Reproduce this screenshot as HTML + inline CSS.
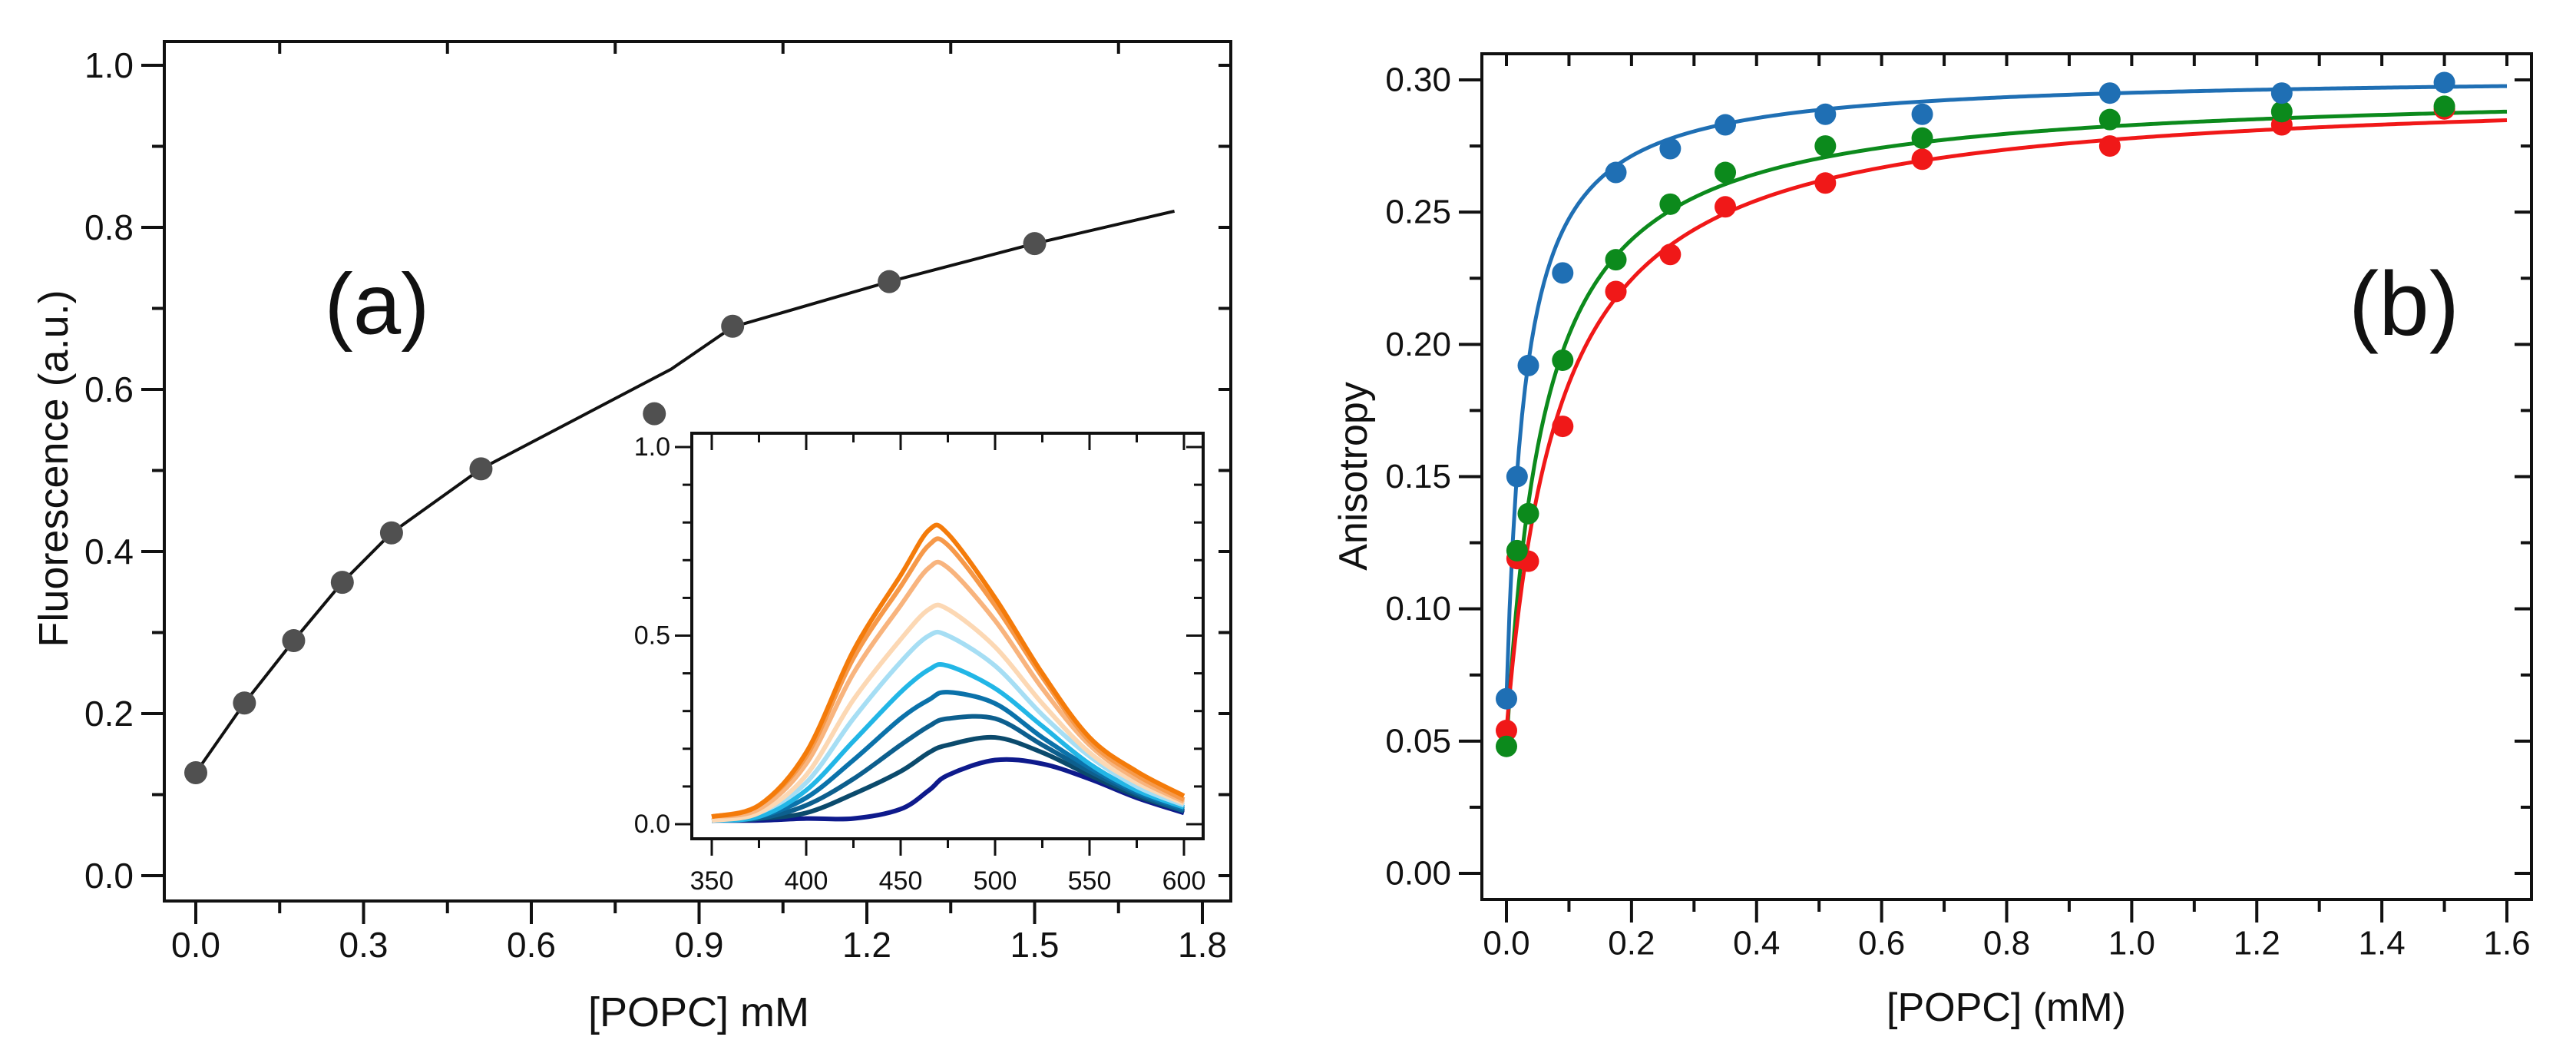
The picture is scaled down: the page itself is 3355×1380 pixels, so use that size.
<!DOCTYPE html>
<html><head><meta charset="utf-8"><style>
html,body{margin:0;padding:0;background:#fff;}
svg{display:block;}
text{font-family:"Liberation Sans",Arial,sans-serif;fill:#111;}
</style></head><body>
<svg id="fig" width="3355" height="1380" viewBox="0 0 3355 1380" xmlns="http://www.w3.org/2000/svg"></svg>
<script>
// ---------- Panel (a) data ----------
const aX = [0, 0.087, 0.175, 0.262, 0.35, 0.51, 0.82, 0.96, 1.24, 1.5];
const aY = [0.127, 0.213, 0.29, 0.362, 0.423, 0.502, 0.57, 0.678, 0.733, 0.78];
const aFitX = [0, 0.087, 0.175, 0.262, 0.35, 0.51, 0.85, 0.96, 1.24, 1.5, 1.75];
const aFitY = [0.127, 0.213, 0.29, 0.362, 0.423, 0.502, 0.625, 0.677, 0.733, 0.78, 0.82];
const aXTicks = ["0.0","0.3","0.6","0.9","1.2","1.5","1.8"];
const aYTicks = ["0.0","0.2","0.4","0.6","0.8","1.0"];
// ---------- Inset data ----------
const wl = [350,375,400,425,450,465,475,500,525,550,575,600];
const spec1 = [0.02,0.05,0.19,0.46,0.66,0.78,0.77,0.60,0.40,0.23,0.14,0.075];
const spec2 = [0.02,0.05,0.18,0.44,0.63,0.74,0.74,0.58,0.39,0.22,0.13,0.065];
const spec3 = [0.02,0.04,0.16,0.40,0.58,0.68,0.68,0.54,0.36,0.21,0.12,0.06];
const spec4 = [0.01,0.03,0.13,0.33,0.49,0.57,0.57,0.47,0.32,0.19,0.11,0.055];
const spec5 = [0.01,0.03,0.11,0.28,0.43,0.50,0.50,0.42,0.29,0.18,0.10,0.05];
const spec6 = [0.01,0.02,0.09,0.22,0.35,0.41,0.42,0.36,0.26,0.16,0.09,0.045];
const spec7 = [0.01,0.02,0.07,0.17,0.28,0.33,0.35,0.32,0.23,0.15,0.085,0.04];
const spec8 = [0.01,0.015,0.05,0.12,0.21,0.26,0.28,0.28,0.21,0.14,0.08,0.035];
const spec9 = [0.01,0.015,0.03,0.08,0.14,0.19,0.21,0.23,0.19,0.13,0.075,0.035];
const spec10 = [0.01,0.01,0.015,0.015,0.04,0.09,0.13,0.17,0.16,0.12,0.07,0.03];
const specColors = ["#f47b0a","#f6994a","#f8b47e","#fcd8b4","#a6def4","#22b6e6","#0b72aa","#0d5f8e","#0b4a6c","#0e1a8c"];
const insetXTicks = ["350","400","450","500","550","600"];
const insetYTicks = ["0.0","0.5","1.0"];
// ---------- Panel (b) data ----------
const bX = [0, 0.017, 0.035, 0.09, 0.175, 0.262, 0.35, 0.51, 0.665, 0.965, 1.24, 1.5];
const bBlue = [0.066,0.150,0.192,0.227,0.265,0.274,0.283,0.287,0.287,0.295,0.295,0.299];
const bGreen = [0.048,0.122,0.136,0.194,0.232,0.253,0.265,0.275,0.278,0.285,0.288,0.290];
const bRed = [0.054,0.119,0.118,0.169,0.220,0.234,0.252,0.261,0.270,0.275,0.283,0.289];
const fitR0 = [0.066, 0.048, 0.054];
const fitRmax = [0.302, 0.297, 0.297];
const fitK = [0.03, 0.06, 0.085];
const bXTicks = ["0.0","0.2","0.4","0.6","0.8","1.0","1.2","1.4","1.6"];
const bYTicks = ["0.00","0.05","0.10","0.15","0.20","0.25","0.30"];

const NS = "http://www.w3.org/2000/svg";
const svg = document.getElementById("fig");
function mk(tag, attrs, parent){
  const e = document.createElementNS(NS, tag);
  for (const k in attrs) e.setAttribute(k, attrs[k]);
  (parent||svg).appendChild(e); return e;
}
function txt(x,y,s,size,anchor,parent){
  const t = mk("text",{x:x,y:y,"font-size":size,"text-anchor":anchor||"middle","dominant-baseline":"central"},parent);
  t.textContent = s; return t;
}
function line(x1,y1,x2,y2,w,parent){ return mk("line",{x1:x1,y1:y1,x2:x2,y2:y2,stroke:"#111","stroke-width":w||4},parent); }
function smoothPath(pts){
  let d = "M"+pts[0][0]+","+pts[0][1];
  for (let i=0;i<pts.length-1;i++){
    const p0=pts[Math.max(0,i-1)], p1=pts[i], p2=pts[i+1], p3=pts[Math.min(pts.length-1,i+2)];
    const c1x=p1[0]+(p2[0]-p0[0])/6, c1y=p1[1]+(p2[1]-p0[1])/6;
    const c2x=p2[0]-(p3[0]-p1[0])/6, c2y=p2[1]-(p3[1]-p1[1])/6;
    d += " C"+c1x+","+c1y+" "+c2x+","+c2y+" "+p2[0]+","+p2[1];
  }
  return d;
}

// ================= Panel (a) =================
const gA = mk("g",{});


const axL=214, axR=1603, axT=54, axB=1173;
const ax = v => 255 + v*(1566-255)/1.8;
const ay = v => 1140 - v*1055;
mk("rect",{x:axL,y:axT,width:axR-axL,height:axB-axT,fill:"none",stroke:"#111","stroke-width":4},gA);
for (let i=0;i<=12;i++){
  const v=i*0.15, x=ax(v), major=i%2===0;
  line(x,axB,x,axB+(major?30:16),4,gA);
  line(x,axT,x,axT+(major?0:16),4,gA);
}
aXTicks.forEach((s,i)=>{ const t=txt(ax(i*0.3),1230,s,46,"middle",gA);
    });
for (let i=0;i<=10;i++){
  const v=i*0.1, y=ay(v), major=i%2===0;
  line(axL-(major?30:16),y,axL,y,4,gA);
  line(axR-16,y,axR,y,4,gA);
}
aYTicks.forEach((s,i)=>{ const t=txt(axL-40,ay(i*0.2),s,46,"end",gA);
    });
const aTitleX = txt(910,1318,"[POPC] mM",54,"middle",gA);
 
const aTitleY = txt(0,0,"Fluorescence (a.u.)",54,"middle",gA);
aTitleY.setAttribute("transform","translate(70,610) rotate(-90)");
 
const aLab = txt(491,396,"(a)",112,"middle",gA);
 
const aFit = mk("polyline",{points:aFitX.map((v,i)=>ax(v)+","+ay(aFitY[i])).join(" "),fill:"none",stroke:"#111","stroke-width":4},gA);
 
aX.forEach((v,i)=>{ const c=mk("circle",{cx:ax(v),cy:ay(aY[i]),r:15,fill:"#505050"},gA);
    });

// ================= Inset =================
const gI = mk("g",{});


const iL=901, iR=1567, iT=564, iB=1092;
const ix = v => 927 + (v-350)*(1542-927)/250;
const iy = v => 1073 - v*(1073-582);
mk("rect",{x:iL,y:iT,width:iR-iL,height:iB-iT,fill:"#fff",stroke:"#111","stroke-width":4},gI);
for (let w=350; w<=600; w+=25){
  const x=ix(w), major=(w%50===0);
  line(x,iB,x,iB+(major?22:12),3,gI);
  line(x,iT,x,iT+(major?22:12),3,gI);
}
insetXTicks.forEach(s=>{ const t=txt(ix(+s),1147,s,34,"middle",gI);
    });
for (let i=0;i<=10;i++){
  const v=i*0.1, y=iy(v), major=i%5===0;
  line(iL-(major?22:12),y,iL,y,3,gI);
  line(iR-(major?22:12),y,iR,y,3,gI);
}
insetYTicks.forEach((s,i)=>{ const t=txt(iL-28,iy(i*0.5),s,34,"end",gI);
    });
const specs=[spec10,spec9,spec8,spec7,spec6,spec5,spec4,spec3,spec2,spec1];
specs.forEach((s,k)=>{
  const col = specColors[9-k];
  const p = mk("path",{d:smoothPath(wl.map((w,i)=>[ix(w),iy(s[i])])),fill:"none",stroke:col,"stroke-width":6,"stroke-linejoin":"round"},gI);
  
  
});

// ================= Panel (b) =================
const gB = mk("g",{});


const bL=1930, bR=3297, bT=70, bB=1171;
const bx = v => 1962 + v*(3265-1962)/1.6;
const by = v => 1137 - v*(1137-104)/0.30;
mk("rect",{x:bL,y:bT,width:bR-bL,height:bB-bT,fill:"none",stroke:"#111","stroke-width":4},gB);
for (let i=0;i<=16;i++){
  const v=i*0.1, x=bx(v), major=i%2===0;
  line(x,bB,x,bB+(major?30:16),4,gB);
  line(x,bT,x,bT+16,4,gB);
}
bXTicks.forEach((s,i)=>{ const t=txt(bx(i*0.2),1228,s,44,"middle",gB);
    });
for (let i=0;i<=12;i++){
  const v=i*0.025, y=by(v), major=i%2===0;
  line(bL-(major?30:16),y,bL,y,4,gB);
  line(bR-(major?22:14),y,bR,y,4,gB);
}
bYTicks.forEach((s,i)=>{ const t=txt(bL-40,by(i*0.05),s,44,"end",gB);
    });
const bTitleX = txt(2613,1312,"[POPC] (mM)",52,"middle",gB);
 
const bTitleY = txt(0,0,"Anisotropy",52,"middle",gB);
bTitleY.setAttribute("transform","translate(1763,620) rotate(-90)");
 
const bLab = txt(3131,396,"(b)",118,"middle",gB);
 
const bSeries=[bBlue,bGreen,bRed];
const bColors=["#1f6fb4","#0c8a1c","#f01818"];
const bNames=["blue","green","red"];
bSeries.forEach((s,k)=>{
  const pts=[];
  for (let j=0;j<=320;j++){ const x=j*0.005; pts.push(bx(x)+","+by(fitR0[k]+(fitRmax[k]-fitR0[k])*x/(fitK[k]+x))); }
  const p=mk("polyline",{points:pts.join(" "),fill:"none",stroke:bColors[k],"stroke-width":5},gB);
  
  
});
[2,1,0].forEach(k=>{
  bSeries[k].forEach((v,i)=>{
    const c=mk("circle",{cx:bx(bX[i]),cy:by(v),r:14,fill:bColors[k]},gB);
    
    
  });
});
</script>
</body></html>
